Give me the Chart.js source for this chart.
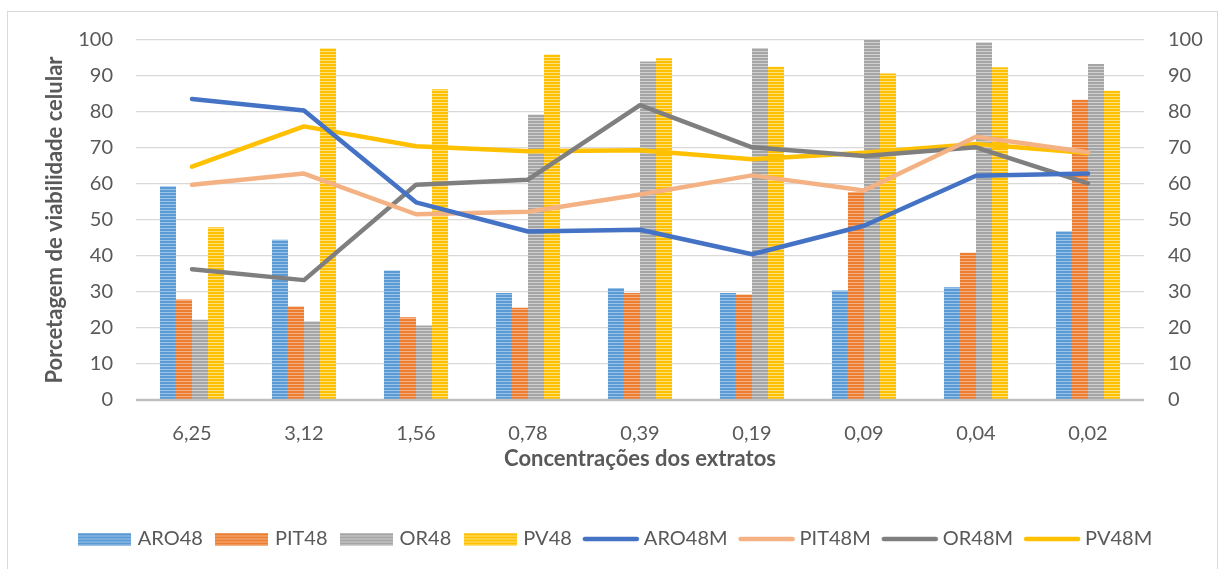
<!DOCTYPE html>
<html>
<head>
<meta charset="utf-8">
<script src="https://cdn.jsdelivr.net/npm/chart.js@4.4.1/dist/chart.umd.min.js"></script>
<style>
  html, body { margin: 0; padding: 0; background: #fff; }
  #wrap { position: relative; width: 1220px; height: 569px; overflow: hidden; }
  #frame { position: absolute; left: 7px; top: 11px; width: 1209px; height: 580px; border: 1px solid #d9d9d9; }
  #chart { position: absolute; left: 0; top: 0; }
</style>
</head>
<body>
<div id="wrap">
  <div id="frame"></div>
  <canvas id="chart" width="1220" height="569"></canvas>
</div>
<script>
const cats = ["6,25", "3,12", "1,56", "0,78", "0,39", "0,19", "0,09", "0,04", "0,02"];
const aro48 = [59.4, 44.5, 36.0, 29.7, 31.1, 29.7, 30.4, 31.3, 46.9];
const pit48 = [27.9, 26.0, 23.0, 25.6, 29.7, 29.3, 57.8, 40.9, 83.4];
const or48  = [22.3, 21.9, 20.7, 79.3, 94.0, 97.8, 100, 99.4, 93.3];
const pv48  = [48.0, 97.7, 86.3, 96.0, 94.9, 92.6, 90.7, 92.4, 85.9];
const aro48m = [83.6, 80.4, 54.9, 46.8, 47.3, 40.5, 48.4, 62.3, 62.9];
const pit48m = [59.8, 62.9, 51.6, 52.3, 57.1, 62.4, 58.2, 73.1, 68.8];
const or48m  = [36.3, 33.3, 59.8, 61.2, 81.9, 70.2, 67.8, 70.2, 60.2];
const pv48m  = [64.8, 76.0, 70.5, 69.1, 69.4, 66.9, 68.7, 71.1, 68.6];

const FONT = "Lato, 'Open Sans', sans-serif";
const TXT = "#595959";

// striped fill like the Excel pattern
function stripes(base, light) {
  const c = document.createElement("canvas");
  c.width = 4; c.height = 3;
  const g = c.getContext("2d");
  g.fillStyle = base; g.fillRect(0, 0, 4, 3);
  g.fillStyle = light; g.fillRect(0, 0, 4, 1);
  return g.createPattern(c, "repeat");
}
function barIcon(pat) {
  const c = document.createElement("canvas");
  c.width = 53; c.height = 13;
  const g = c.getContext("2d");
  g.fillStyle = pat; g.fillRect(0, 0, 53, 13);
  return c;
}
function lineIcon(col) {
  const c = document.createElement("canvas");
  c.width = 58; c.height = 8;
  const g = c.getContext("2d");
  g.strokeStyle = col; g.lineWidth = 4.5; g.lineCap = "round";
  g.beginPath(); g.moveTo(3, 4); g.lineTo(55, 4); g.stroke();
  return c;
}

const pAro = stripes("#5B9BD5", "#9DC3E6");
const pPit = stripes("#ED7D31", "#F4B183");
const pOr  = stripes("#A5A5A5", "#D0D0D0");
const pPv  = stripes("#FFC000", "#FFE07F");

const bar = (label, data, pat) => ({
  type: "bar", label, data, backgroundColor: pat, borderWidth: 0,
  categoryPercentage: 0.572, barPercentage: 1, order: 2, yAxisID: "y"
});
const line = (label, data, col) => ({
  type: "line", label, data, borderColor: col, backgroundColor: col,
  borderWidth: 4.5, pointRadius: 0, tension: 0, borderCapStyle: "round",
  borderJoinStyle: "round", order: 1, yAxisID: "y"
});

const datasets = [
  bar("ARO48", aro48, pAro),
  bar("PIT48", pit48, pPit),
  bar("OR48", or48, pOr),
  bar("PV48", pv48, pPv),
  line("ARO48M", aro48m, "#4472C4"),
  line("PIT48M", pit48m, "#F4B183"),
  line("OR48M", or48m, "#7F7F7F"),
  line("PV48M", pv48m, "#FFC000")
];
const icons = [barIcon(pAro), barIcon(pPit), barIcon(pOr), barIcon(pPv),
  lineIcon("#4472C4"), lineIcon("#F4B183"), lineIcon("#7F7F7F"), lineIcon("#FFC000")];

new Chart(document.getElementById("chart"), {
  data: { labels: cats, datasets },
  options: {
    responsive: false,
    animation: false,
    layout: { padding: { left: 14, right: 0, top: 40, bottom: 10 } },
    plugins: {
      tooltip: { enabled: false },
      legend: {
        position: "bottom",
        labels: {
          usePointStyle: true,
          pointStyleWidth: 46,
          padding: 16,
          color: TXT,
          font: { family: FONT, size: 20 },
          sort: (a, b) => a.datasetIndex - b.datasetIndex,
          generateLabels(chart) {
            const items = Chart.defaults.plugins.legend.labels.generateLabels(chart);
            items.forEach(it => { it.pointStyle = icons[it.datasetIndex]; });
            return items;
          }
        }
      }
    },
    scales: {
      x: {
        afterFit(s) { s.height = 113; },
        grid: { display: false, drawTicks: false },
        border: { display: false },
        ticks: { color: TXT, font: { family: FONT, size: 20 }, padding: 22 },
        title: { display: true, text: "Concentrações dos extratos", color: TXT,
          font: { family: FONT, size: 22, weight: "bold" }, padding: { top: 0, bottom: 41 } }
      },
      y: {
        position: "left", min: 0, max: 100,
        afterFit(s) { s.width = 122; },
        grid: { color: "#d9d9d9", lineWidth: 1.3, drawTicks: false },
        border: { display: false },
        ticks: { stepSize: 10, color: TXT, font: { family: FONT, size: 20 }, padding: 23 },
        title: { display: true, text: "Porcetagem de viabilidade celular", color: TXT,
          font: { family: FONT, size: 22, weight: "bold" }, padding: { top: 28, bottom: 0 } }
      },
      y2: {
        position: "right", min: 0, max: 100,
        afterFit(s) { s.width = 76; },
        grid: { display: false, drawTicks: false },
        border: { display: false },
        ticks: { stepSize: 10, color: TXT, font: { family: FONT, size: 20 }, padding: 24 }
      }
    }
  },
  plugins: [{
    id: "baseline",
    afterDatasetsDraw(chart) {
      const { ctx, chartArea, scales } = chart;
      const y0 = scales.y.getPixelForValue(0);
      ctx.save();
      ctx.strokeStyle = "#bfbfbf";
      ctx.lineWidth = 2.5;
      ctx.beginPath(); ctx.moveTo(chartArea.left, y0); ctx.lineTo(chartArea.right, y0); ctx.stroke();
      ctx.restore();
    }
  }]
});
</script>
</body>
</html>
